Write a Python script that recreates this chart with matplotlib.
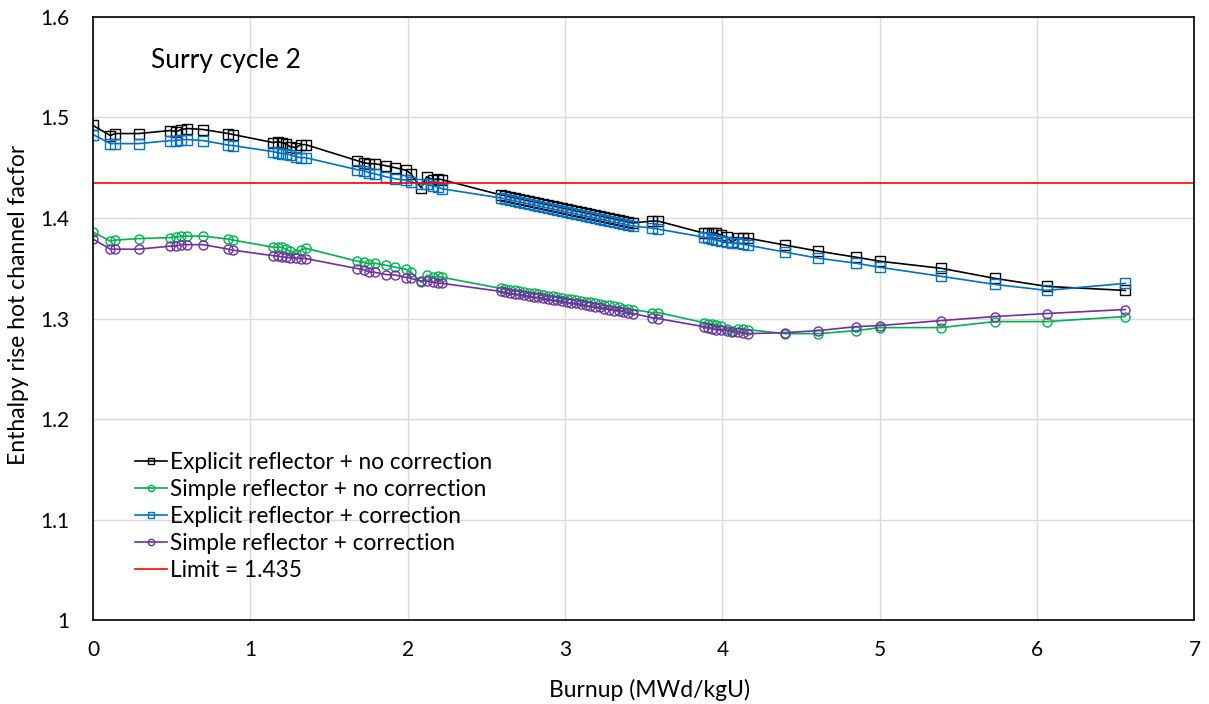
import matplotlib
matplotlib.use("Agg")
import matplotlib.pyplot as plt

# burnup points (MWd/kgU), shared by all four calculations
burnup = [0.0, 0.11, 0.14, 0.29, 0.49, 0.53, 0.56, 0.60, 0.70, 0.86, 0.89,
          1.145, 1.175, 1.20, 1.225, 1.25, 1.29, 1.32, 1.35,
          1.68, 1.72, 1.755, 1.79, 1.86, 1.92, 1.99, 2.02, 2.085, 2.12, 2.16, 2.19, 2.22,
          2.59, 2.62, 2.65, 2.68, 2.71, 2.74, 2.77, 2.80, 2.83, 2.86, 2.89, 2.92, 2.95, 2.98,
          3.01, 3.04, 3.07, 3.10, 3.13, 3.16, 3.19, 3.22, 3.25, 3.28, 3.31, 3.34, 3.37, 3.40, 3.43,
          3.55, 3.59,
          3.88, 3.91, 3.935, 3.96, 3.99, 4.03, 4.06, 4.10, 4.13, 4.16,
          4.40, 4.61, 4.85, 5.00, 5.39, 5.73, 6.06, 6.56]

explicit_nocorr = [1.492, 1.482, 1.484, 1.484, 1.487, 1.486, 1.488, 1.489, 1.488, 1.484, 1.483,
                   1.475, 1.476, 1.475, 1.474, 1.471, 1.470, 1.473, 1.473,
                   1.457, 1.455, 1.454, 1.454, 1.452, 1.450, 1.4475, 1.444, 1.430, 1.441, 1.438, 1.439, 1.438,
                   1.423, 1.422, 1.421, 1.420, 1.419, 1.418, 1.417, 1.416, 1.415, 1.414, 1.413, 1.412, 1.411, 1.410,
                   1.409, 1.408, 1.407, 1.406, 1.405, 1.404, 1.403, 1.402, 1.401, 1.400, 1.399, 1.398, 1.397, 1.396, 1.395,
                   1.397, 1.397,
                   1.385, 1.385, 1.385, 1.385, 1.383, 1.381, 1.376, 1.380, 1.380, 1.380,
                   1.373, 1.367, 1.361, 1.357, 1.350, 1.340, 1.332, 1.328]

simple_nocorr = [1.386, 1.377, 1.378, 1.3795, 1.3805, 1.381, 1.382, 1.382, 1.382, 1.379, 1.378,
                 1.371, 1.371, 1.371, 1.369, 1.367, 1.364, 1.368, 1.370,
                 1.357, 1.356, 1.3545, 1.355, 1.353, 1.351, 1.349, 1.346, 1.336, 1.343, 1.341, 1.342, 1.341,
                 1.330, 1.329, 1.328, 1.328, 1.327, 1.326, 1.325, 1.325, 1.324, 1.323, 1.322, 1.322, 1.321, 1.320,
                 1.319, 1.319, 1.318, 1.317, 1.316, 1.316, 1.315, 1.314, 1.313, 1.313, 1.312, 1.311, 1.310, 1.310, 1.309,
                 1.306, 1.306,
                 1.296, 1.295, 1.295, 1.294, 1.293, 1.290, 1.288, 1.290, 1.290, 1.289,
                 1.285, 1.285, 1.288, 1.291, 1.291, 1.297, 1.297, 1.302]

explicit_corr = [1.483, 1.474, 1.474, 1.474, 1.477, 1.477, 1.478, 1.478, 1.477, 1.4725, 1.472,
                 1.466, 1.465, 1.464, 1.464, 1.463, 1.461, 1.460, 1.460,
                 1.448, 1.447, 1.445, 1.444, 1.441, 1.439, 1.4375, 1.436, 1.434, 1.434, 1.432, 1.431, 1.429,
                 1.420, 1.419, 1.418, 1.417, 1.416, 1.415, 1.414, 1.413, 1.412, 1.411, 1.410, 1.409, 1.408, 1.407,
                 1.406, 1.405, 1.404, 1.403, 1.402, 1.401, 1.400, 1.399, 1.398, 1.397, 1.396, 1.395, 1.394, 1.393, 1.392,
                 1.390, 1.389,
                 1.381, 1.380, 1.379, 1.378, 1.377, 1.376, 1.375, 1.375, 1.374, 1.373,
                 1.366, 1.360, 1.355, 1.351, 1.342, 1.334, 1.328, 1.335]

simple_corr = [1.379, 1.369, 1.369, 1.369, 1.372, 1.372, 1.3735, 1.3735, 1.3735, 1.369, 1.368,
               1.3625, 1.362, 1.3615, 1.361, 1.3605, 1.360, 1.3597, 1.3597,
               1.3497, 1.3487, 1.3464, 1.346, 1.3438, 1.3433, 1.3408, 1.340, 1.3374, 1.3374, 1.336, 1.335, 1.335,
               1.327, 1.326, 1.325, 1.324, 1.324, 1.323, 1.322, 1.321, 1.321, 1.320, 1.319, 1.318, 1.318, 1.317,
               1.316, 1.315, 1.315, 1.314, 1.313, 1.312, 1.311, 1.311, 1.310, 1.309, 1.308, 1.308, 1.307, 1.306, 1.305,
               1.301, 1.300,
               1.292, 1.291, 1.290, 1.289, 1.289, 1.288, 1.287, 1.287, 1.286, 1.285,
               1.286, 1.288, 1.292, 1.293, 1.298, 1.302, 1.305, 1.309]

limit = 1.435

plt.rcParams['font.family'] = ['Lato', 'DejaVu Sans']

fig = plt.figure(figsize=(12.09, 7.04), dpi=100)
ax = fig.add_axes([0.077, 0.119, 0.911, 0.857])

mk = dict(markerfacecolor='none', markersize=6.5, markeredgewidth=1.0, linewidth=1.2)
ax.plot(burnup, explicit_nocorr, marker='s', color='#000000', label='Explicit reflector + no correction', **mk)
ax.plot(burnup, simple_nocorr, marker='o', color='#00B050', label='Simple reflector + no correction', **mk)
ax.plot(burnup, explicit_corr, marker='s', color='#0070C0', label='Explicit reflector + correction', **mk)
ax.plot(burnup, simple_corr, marker='o', color='#7030A0', label='Simple reflector + correction', **mk)
ax.axhline(limit, color='#FF0000', linewidth=1.2, label='Limit = 1.435')

ax.set_xlim(0, 7)
ax.set_ylim(1.0, 1.6)
ax.set_xticks(range(0, 8))
ax.set_yticks([1.0, 1.1, 1.2, 1.3, 1.4, 1.5, 1.6])
ax.set_yticklabels(['1', '1.1', '1.2', '1.3', '1.4', '1.5', '1.6'])
ax.tick_params(length=0, labelsize=15)
ax.tick_params(axis='y', pad=17)
ax.tick_params(axis='x', pad=14)
ax.grid(True, color='#d9d9d9', linewidth=1.0)
ax.set_axisbelow(True)
for s in ax.spines.values():
    s.set_color('black')
    s.set_linewidth(1.2)

ax.set_xlabel('Burnup (MWd/kgU)', fontsize=16.5)
ax.set_ylabel('Enthalpy rise hot channel facfor', fontsize=16.5)
ax.xaxis.set_label_coords(0.505, -0.097)
ax.yaxis.set_label_coords(-0.058, 0.522)

ax.text(0.053, 0.928, 'Surry cycle 2', transform=ax.transAxes, fontsize=19, va='center')

leg = ax.legend(loc='lower left', bbox_to_anchor=(0.0297, 0.05), frameon=False, fontsize=16.3,
                handlelength=1.4, handletextpad=0.15, labelspacing=0.27, borderaxespad=0)
for h in leg.legend_handles:
    h.set_markersize(4.5)

fig.savefig('out.png', dpi=100)
